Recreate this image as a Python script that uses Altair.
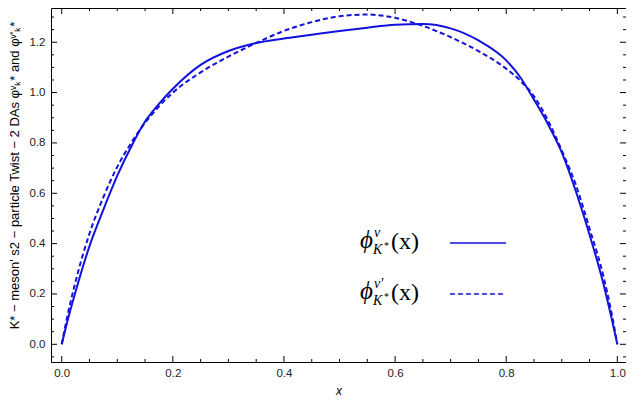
import altair as alt
import pandas as pd

# ---- data ----
x_vals = [0, 0.01, 0.025, 0.05, 0.075, 0.1, 0.125, 0.15, 0.175, 0.2, 0.25, 0.3, 0.35,
          0.4, 0.45, 0.5, 0.55, 0.6, 0.65, 0.7, 0.75, 0.8, 0.825, 0.85, 0.875, 0.9,
          0.925, 0.95, 0.975, 0.99, 1.0]
phi_v = [0, 0.09, 0.21, 0.39, 0.535, 0.67, 0.785, 0.885, 0.955, 1.015, 1.11, 1.165, 1.197,
         1.215, 1.23, 1.245, 1.258, 1.269, 1.272, 1.255, 1.207, 1.128, 1.062, 0.972, 0.875,
         0.762, 0.61, 0.435, 0.24, 0.1, 0]
phi_vp = [0, 0.11, 0.25, 0.44, 0.585, 0.705, 0.8, 0.88, 0.945, 1.0, 1.08, 1.143, 1.197,
          1.245, 1.28, 1.303, 1.31, 1.297, 1.265, 1.22, 1.165, 1.095, 1.048, 0.985, 0.89,
          0.77, 0.635, 0.46, 0.27, 0.12, 0]

x_major = [0.0, 0.2, 0.4, 0.6, 0.8, 1.0]
x_minor = [0.05, 0.1, 0.15, 0.25, 0.3, 0.35, 0.45, 0.5, 0.55, 0.65, 0.7, 0.75, 0.85, 0.9, 0.95]
y_major = [0.0, 0.2, 0.4, 0.6, 0.8, 1.0, 1.2]
y_minor = [-0.05, 0.05, 0.1, 0.15, 0.25, 0.3, 0.35, 0.45, 0.5, 0.55, 0.65, 0.7, 0.75,
           0.85, 0.9, 0.95, 1.05, 1.1, 1.15, 1.25, 1.3]

W, H = 575, 354
BLUE = "#1212dc"
XDOM = [-0.0193, 1.0156]
YDOM = [-0.0703, 1.336]

xs = alt.Scale(domain=XDOM, nice=False, zero=False)
ys = alt.Scale(domain=YDOM, nice=False, zero=False)

X_AXIS = alt.Axis(values=x_major, format=".1f", title="x", titleFontStyle="italic",
                  titleY=28, titleBaseline="middle")
Y_AXIS = alt.Axis(values=y_major, format=".1f",
                  title="K* − meson' s2 − particle Twist − 2 DAs φᵛₖ* and φᵛ'ₖ*",
                  titleX=-37, titleY=167, titleBaseline="middle", titleAlign="center")

df_v = pd.DataFrame({"x": x_vals, "y": phi_v})
df_vp = pd.DataFrame({"x": x_vals, "y": phi_vp})

line_v = alt.Chart(df_v).mark_line(color=BLUE, strokeWidth=2, interpolate="monotone").encode(
    x=alt.X("x:Q", scale=xs, axis=X_AXIS),
    y=alt.Y("y:Q", scale=ys, axis=Y_AXIS),
)
line_vp = alt.Chart(df_vp).mark_line(color=BLUE, strokeWidth=2, strokeDash=[5, 3],
                                     interpolate="monotone").encode(
    x=alt.X("x:Q", scale=xs, axis=X_AXIS),
    y=alt.Y("y:Q", scale=ys, axis=Y_AXIS),
)

def xticks(vals, length):
    d = pd.DataFrame({"x": vals})
    bot = alt.Chart(d).mark_rule(color="black", strokeWidth=1).encode(
        x=alt.X("x:Q", scale=xs, axis=X_AXIS), y=alt.value(H), y2=alt.value(H - length))
    top = alt.Chart(d).mark_rule(color="black", strokeWidth=1).encode(
        x=alt.X("x:Q", scale=xs, axis=X_AXIS), y=alt.value(0), y2=alt.value(length))
    return [bot, top]

def yticks(vals, length):
    d = pd.DataFrame({"y": vals})
    left = alt.Chart(d).mark_rule(color="black", strokeWidth=1).encode(
        y=alt.Y("y:Q", scale=ys, axis=Y_AXIS), x=alt.value(0), x2=alt.value(length))
    right = alt.Chart(d).mark_rule(color="black", strokeWidth=1).encode(
        y=alt.Y("y:Q", scale=ys, axis=Y_AXIS), x=alt.value(W), x2=alt.value(W - length))
    return [left, right]

ticks = xticks(x_major, 6) + xticks(x_minor, 3) + yticks(y_major, 6) + yticks(y_minor, 3)

# ---- legend built from text pieces ----
one = pd.DataFrame({"a": [0]})

def txt(s, x, y, size, style="normal", align="left"):
    return alt.Chart(one).mark_text(text=s, font="Liberation Serif", fontSize=size,
                                    fontStyle=style, align=align, baseline="alphabetic",
                                    color="black").encode(x=alt.value(x), y=alt.value(y))

legend = []
for dy, sup, dash in [(0, "v", None), (51, "v′", [5, 3])]:
    legend += [
        txt("ϕ", 309, 240 + dy, 25, "italic"),
        txt(sup, 323, 229 + dy, 14, "italic"),
        txt("K", 322, 246 + dy, 14, "italic"),
        txt("*", 333, 241 + dy, 10),
        txt("(x)", 340, 241 + dy, 24),
    ]
    kw = dict(color=BLUE, strokeWidth=1.5)
    if dash:
        kw["strokeDash"] = dash
    legend.append(alt.Chart(one).mark_rule(**kw).encode(
        x=alt.value(399), x2=alt.value(455), y=alt.value(235 + dy)))

chart = alt.layer(line_v, line_vp, *ticks, *legend).properties(
    width=W, height=H, autosize="none", background="white",
    padding={"left": 43, "top": 0, "right": 0, "bottom": 35},
).configure_view(stroke="black", strokeWidth=1).configure_axis(
    ticks=False, domain=False, grid=False, labelFontSize=11.5, labelFont="Liberation Sans",
    labelColor="#222", titleFontWeight="normal", titleFont="Liberation Sans",
    titleFontSize=12, titleColor="black",
).configure_axisX(labelPadding=5).configure_axisY(labelPadding=6, titleFontSize=13)

chart.save("out.html", embed_options={"renderer": "svg", "actions": False})
